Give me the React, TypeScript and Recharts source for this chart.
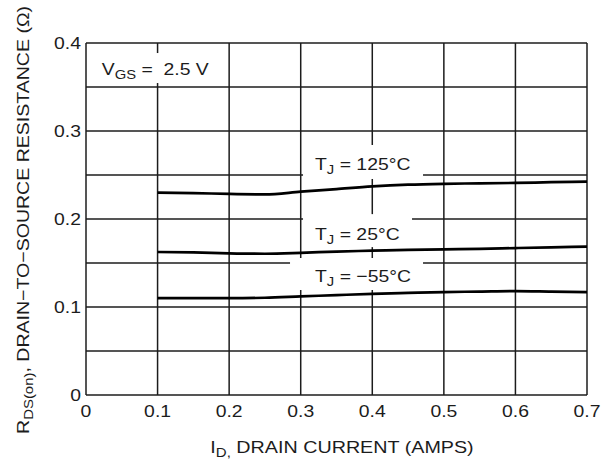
import React from 'react';
import { LineChart, Line, XAxis, YAxis, CartesianGrid, ReferenceDot } from 'recharts';

const currents = [0.1, 0.15, 0.2, 0.25, 0.3, 0.35, 0.4, 0.45, 0.5, 0.55, 0.6, 0.65, 0.7];
const r125 = [0.23, 0.2295, 0.2285, 0.228, 0.231, 0.234, 0.237, 0.239, 0.24, 0.2405, 0.241, 0.2418, 0.2425];
const r25 = [0.1625, 0.162, 0.161, 0.1605, 0.1615, 0.163, 0.164, 0.165, 0.1655, 0.166, 0.167, 0.1678, 0.1685];
const rMinus55 = [0.11, 0.11, 0.11, 0.1105, 0.112, 0.1135, 0.115, 0.116, 0.117, 0.1175, 0.118, 0.1175, 0.117];

const xTicks = [0, 0.1, 0.2, 0.3, 0.4, 0.5, 0.6, 0.7];
const yTicks = [0, 0.1, 0.2, 0.3, 0.4];
const gridY = [0, 0.05, 0.1, 0.15, 0.2, 0.25, 0.3, 0.35, 0.4];

const data = currents.map((id, i) => ({ id, t125: r125[i], t25: r25[i], tm55: rMinus55[i] }));

const FONT = 'Liberation Sans, Arial, sans-serif';
const INK = '#1c1c1c';
const SX = 1.14; // source text is a bit stretched horizontally

// annotation anchors (text start / baseline in data units) + white box behind text
const notes = [
  { x: 0.022, y: 0.3636, main: 'V', sub: 'GS', rest: ' =\u00a0\u00a02.5 V', box: [-7, -22, 130, 30] },
  { x: 0.32, y: 0.2557, main: 'T', sub: 'J', rest: ' = 125°C', box: [-12, -25, 120, 34] },
  { x: 0.32, y: 0.176, main: 'T', sub: 'J', rest: ' = 25°C', box: [-12, -26, 109, 33] },
  { x: 0.32, y: 0.1284, main: 'T', sub: 'J', rest: ' = \u221255°C', box: [-25, -24, 133, 32] },
];

function Note({ cx, cy, note }: any) {
  const [bx, by, bw, bh] = note.box;
  return (
    <g>
      <rect x={cx + bx} y={cy + by} width={bw} height={bh} fill="#fff" />
      <g transform={`translate(${cx},${cy}) scale(${SX},1)`}>
        <text x={0} y={0} fontFamily={FONT} fontSize={17} fill={INK}>
          {note.main}
          <tspan fontSize={13} dy={4}>{note.sub}</tspan>
          <tspan dy={-4}>{note.rest}</tspan>
        </text>
      </g>
    </g>
  );
}

function XTick({ x, y, payload }: any) {
  return (
    <g transform={`translate(${x},${y}) scale(${SX},1)`}>
      <text x={0} y={0} dy="0.71em" textAnchor="middle" fontFamily={FONT} fontSize={17} fill={INK}>
        {payload.value}
      </text>
    </g>
  );
}

function YTick({ x, y, payload }: any) {
  return (
    <g transform={`translate(${x},${y}) scale(${SX},1)`}>
      <text x={0} y={0} dy="0.355em" textAnchor="end" fontFamily={FONT} fontSize={17} fill={INK}>
        {payload.value}
      </text>
    </g>
  );
}

export default function App() {
  return (
    <div style={{ position: 'absolute', left: 0, top: 0, width: 608, height: 463, background: '#fff' }}>
      <LineChart width={608} height={463} data={data} margin={{ top: 43, right: 21, bottom: 0, left: 0 }}>
        <CartesianGrid
          horizontalValues={gridY}
          verticalValues={xTicks}
          stroke={INK}
          strokeWidth={1.5}
        />
        <XAxis
          dataKey="id"
          type="number"
          domain={[0, 0.7]}
          ticks={xTicks}
          height={68}
          axisLine={false}
          tickLine={false}
          tickSize={0}
          tickMargin={10}
          tick={<XTick />}
          label={() => (
            <g transform={`translate(342,453) scale(1.16,1)`}>
              <text x={0} y={0} textAnchor="middle" fontFamily={FONT} fontSize={17} fill={INK}>
                I<tspan fontSize={13} dy={4}>D,</tspan>
                <tspan dy={-4}> DRAIN CURRENT (AMPS)</tspan>
              </text>
            </g>
          )}
        />
        <YAxis
          type="number"
          domain={[0, 0.4]}
          ticks={yTicks}
          width={86}
          axisLine={false}
          tickLine={false}
          tickSize={0}
          tickMargin={5}
          tick={<YTick />}
          label={() => (
            <g transform="translate(29,220) rotate(-90) scale(1.15,1)">
              <text x={0} y={0} textAnchor="middle" fontFamily={FONT} fontSize={17} fill={INK}>
                R<tspan fontSize={13} dy={4}>DS(on)</tspan>
                <tspan dy={-4}>, DRAIN{'\u2212'}TO{'\u2212'}SOURCE RESISTANCE (Ω)</tspan>
              </text>
            </g>
          )}
        />
        <Line type="monotone" dataKey="t125" stroke="#000" strokeWidth={2.7} dot={false} isAnimationActive={false} />
        <Line type="monotone" dataKey="t25" stroke="#000" strokeWidth={2.7} dot={false} isAnimationActive={false} />
        <Line type="monotone" dataKey="tm55" stroke="#000" strokeWidth={2.7} dot={false} isAnimationActive={false} />
        {notes.map((n, i) => (
          <ReferenceDot
            key={i}
            x={n.x}
            y={n.y}
            r={0}
            shape={(p: any) => <Note cx={p.cx} cy={p.cy} note={n} />}
          />
        ))}
      </LineChart>
    </div>
  );
}
